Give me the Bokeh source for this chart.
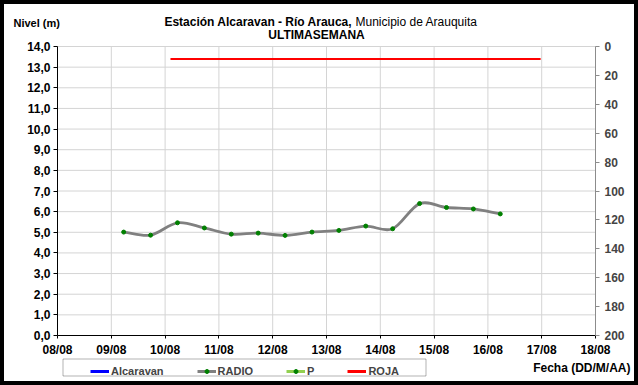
from bokeh.plotting import figure
from bokeh.models import (LinearAxis, Range1d, FixedTicker, Legend, LegendItem,
                          Label, BoxAnnotation, InlineStyleSheet)
from bokeh.embed import file_html
from bokeh.resources import INLINE

NaN = float("nan")

# ---------------- data ----------------
x_ticks = [0, 1, 2, 3, 4, 5, 6, 7, 8, 9, 10]
x_labels = ["08/08", "09/08", "10/08", "11/08", "12/08", "13/08",
            "14/08", "15/08", "16/08", "17/08", "18/08"]
y_ticks = [0, 1, 2, 3, 4, 5, 6, 7, 8, 9, 10, 11, 12, 13, 14]
y_labels = ["0,0", "1,0", "2,0", "3,0", "4,0", "5,0", "6,0", "7,0", "8,0",
            "9,0", "10,0", "11,0", "12,0", "13,0", "14,0"]
right_ticks = [0, 20, 40, 60, 80, 100, 120, 140, 160, 180, 200]

# RADIO series (days after 08/08, level in m)
radio_x = [1.23, 1.73, 2.23, 2.73, 3.23, 3.73, 4.23, 4.73, 5.23, 5.73,
           6.23, 6.73, 7.23, 7.73, 8.23]
radio_y = [5.01, 4.86, 5.46, 5.21, 4.91, 4.96, 4.85, 5.01, 5.09, 5.30,
           5.17, 6.39, 6.20, 6.13, 5.89]

# ROJA threshold
roja_x = [2.10, 8.98]
roja_y = [13.4, 13.4]

# series without values in this week (shown in the legend only)
alc_x, alc_y = [NaN], [NaN]
p_x, p_y = [NaN], [NaN]

FONT = "Liberation Sans"

# ---------------- layout (pixels) ----------------
W, H = 638, 385
PL, PR, PT, PB = 57, 595, 46, 335          # plot area edges in the picture
xmin, xmax = x_ticks[0], x_ticks[-1]
ymin, ymax = y_ticks[0], y_ticks[-1]
sx = (PR - PL) / (xmax - xmin)
sy = (PB - PT) / (ymax - ymin)
xr = Range1d(xmin - PL / sx, xmax + (W - PR) / sx)
yr = Range1d(ymin - (H - PB) / sy, ymax + PT / sy)
rmin, rmax = right_ticks[0], right_ticks[-1]
k = (rmax - rmin) / (ymax - ymin)
rr = Range1d(rmax - (yr.start - ymin) * k, rmax - (yr.end - ymin) * k)

p = figure(width=W, height=H, x_range=xr, y_range=yr, output_backend="svg",
           toolbar_location=None, title=None, min_border=0)
p.outline_line_color = None
p.background_fill_color = None
p.border_fill_color = None
p.xgrid.visible = False
p.ygrid.visible = False
p.stylesheets = [InlineStyleSheet(css=":host { background: white; "
                                  "box-shadow: inset 0 0 0 4px black; }")]

# grid lines inside the plot area
p.segment(x0=x_ticks, y0=[ymin] * len(x_ticks), x1=x_ticks, y1=[ymax] * len(x_ticks),
          line_color="#D4D4D4", line_width=1)
p.segment(x0=[xmin] * len(y_ticks), y0=y_ticks, x1=[xmax] * len(y_ticks), y1=y_ticks,
          line_color="#D4D4D4", line_width=1)

# axes
xa = p.xaxis[0]
ya = p.yaxis[0]
xa.ticker = FixedTicker(ticks=x_ticks)
xa.major_label_overrides = {t: l for t, l in zip(x_ticks, x_labels)}
ya.ticker = FixedTicker(ticks=y_ticks)
ya.major_label_overrides = {t: l for t, l in zip(y_ticks, y_labels)}
xa.fixed_location = ymin
ya.fixed_location = xmin
xa.bounds = (xmin, xmax)
ya.bounds = (ymin, ymax)
for ax in (xa, ya):
    ax.axis_line_color = "black"
    ax.major_tick_line_color = "black"
    ax.major_tick_out = 4
    ax.major_tick_in = 0
    ax.minor_tick_line_color = None
    ax.major_label_text_font = FONT
    ax.major_label_text_font_size = "12px"
    ax.major_label_text_font_style = "bold"
    ax.major_label_text_color = "black"
xa.major_tick_out = 3
xa.major_label_standoff = 4
ya.major_label_standoff = 3

p.extra_y_ranges = {"right": rr}
rax = LinearAxis(y_range_name="right", ticker=FixedTicker(ticks=right_ticks))
rax.fixed_location = xmax
rax.bounds = (rmin, rmax)
rax.axis_line_color = "#8C8C8C"
rax.major_tick_line_color = "#8C8C8C"
rax.major_tick_out = 4
rax.major_tick_in = 0
rax.minor_tick_line_color = None
rax.major_label_text_font = FONT
rax.major_label_text_font_size = "12px"
rax.major_label_text_font_style = "bold"
rax.major_label_standoff = 5
p.add_layout(rax, "right")

# smoothed RADIO curve (cubic bezier through the points)
n = len(radio_x)
tx, ty = [], []
for i in range(n):
    a = max(i - 1, 0)
    b = min(i + 1, n - 1)
    f = 0.5 if 0 < i < n - 1 else 1.0
    tx.append((radio_x[b] - radio_x[a]) * f)
    ty.append((radio_y[b] - radio_y[a]) * f)
cx0 = [radio_x[i] + tx[i] / 3 for i in range(n - 1)]
cy0 = [radio_y[i] + ty[i] / 3 for i in range(n - 1)]
cx1 = [radio_x[i + 1] - tx[i + 1] / 3 for i in range(n - 1)]
cy1 = [radio_y[i + 1] - ty[i + 1] / 3 for i in range(n - 1)]
p.bezier(x0=radio_x[:-1], y0=radio_y[:-1], x1=radio_x[1:], y1=radio_y[1:],
         cx0=cx0, cy0=cy0, cx1=cx1, cy1=cy1,
         line_color="#808080", line_width=2.8, line_cap="round")
p.scatter(radio_x, radio_y, size=4, color="#008000")

p.line(roja_x, roja_y, line_color="#FF0000", line_width=2)

# legend glyphs
r_alc = p.line(alc_x, alc_y, line_color="#0000FF", line_width=3)
r_radio_leg = p.line(p_x, p_y, line_color="#808080", line_width=3)
r_radio_pts = p.scatter(p_x, p_y, size=4, color="#008000")
r_p_leg = p.line(p_x, p_y, line_color="#92D050", line_width=3)
r_p_pts = p.scatter(p_x, p_y, size=4, color="#008000")
r_roja_leg = p.line(alc_x, alc_y, line_color="#FF0000", line_width=3)

# legend box (screen units, y measured up from the bottom)
box = BoxAnnotation(left=62.5, right=425.5, top=H - 358.5, bottom=H - 375.5,
                    left_units="screen", right_units="screen",
                    top_units="screen", bottom_units="screen",
                    fill_alpha=0, fill_color=None, line_color="black", line_width=1)
p.add_layout(box)

legend = Legend(items=[
    LegendItem(label="Alcaravan", renderers=[r_alc]),
    LegendItem(label="RADIO", renderers=[r_radio_leg, r_radio_pts]),
    LegendItem(label="P", renderers=[r_p_leg, r_p_pts]),
    LegendItem(label="ROJA", renderers=[r_roja_leg]),
], orientation="horizontal", location=(90, H - 358 - 19), padding=3, spacing=33,
    label_standoff=2, glyph_width=19, glyph_height=10, label_height=11,
    label_width=1, label_text_font=FONT, label_text_font_size="11px",
    label_text_font_style="bold", border_line_color=None,
    background_fill_alpha=0, margin=0)
p.add_layout(legend)


def lab(x, y, text, size="12px", align="left", bold=True):
    p.add_layout(Label(x=x, y=H - y, x_units="screen", y_units="screen", text=text,
                       text_font=FONT, text_font_size=size,
                       text_font_style="bold" if bold else "normal",
                       text_align=align, text_baseline="middle", text_color="black"))


lab(13, 22, "Nivel (m)", size="11px")
lab(352, 21, "Estación Alcaravan - Río Arauca,", align="right")
lab(355, 21, "Municipio de Arauquita", bold=False)
lab(316, 34, "ULTIMASEMANA", align="center")
lab(630, 367, "Fecha (DD/M/AA)", align="right")

open("out.html", "w").write(file_html(p, INLINE))
